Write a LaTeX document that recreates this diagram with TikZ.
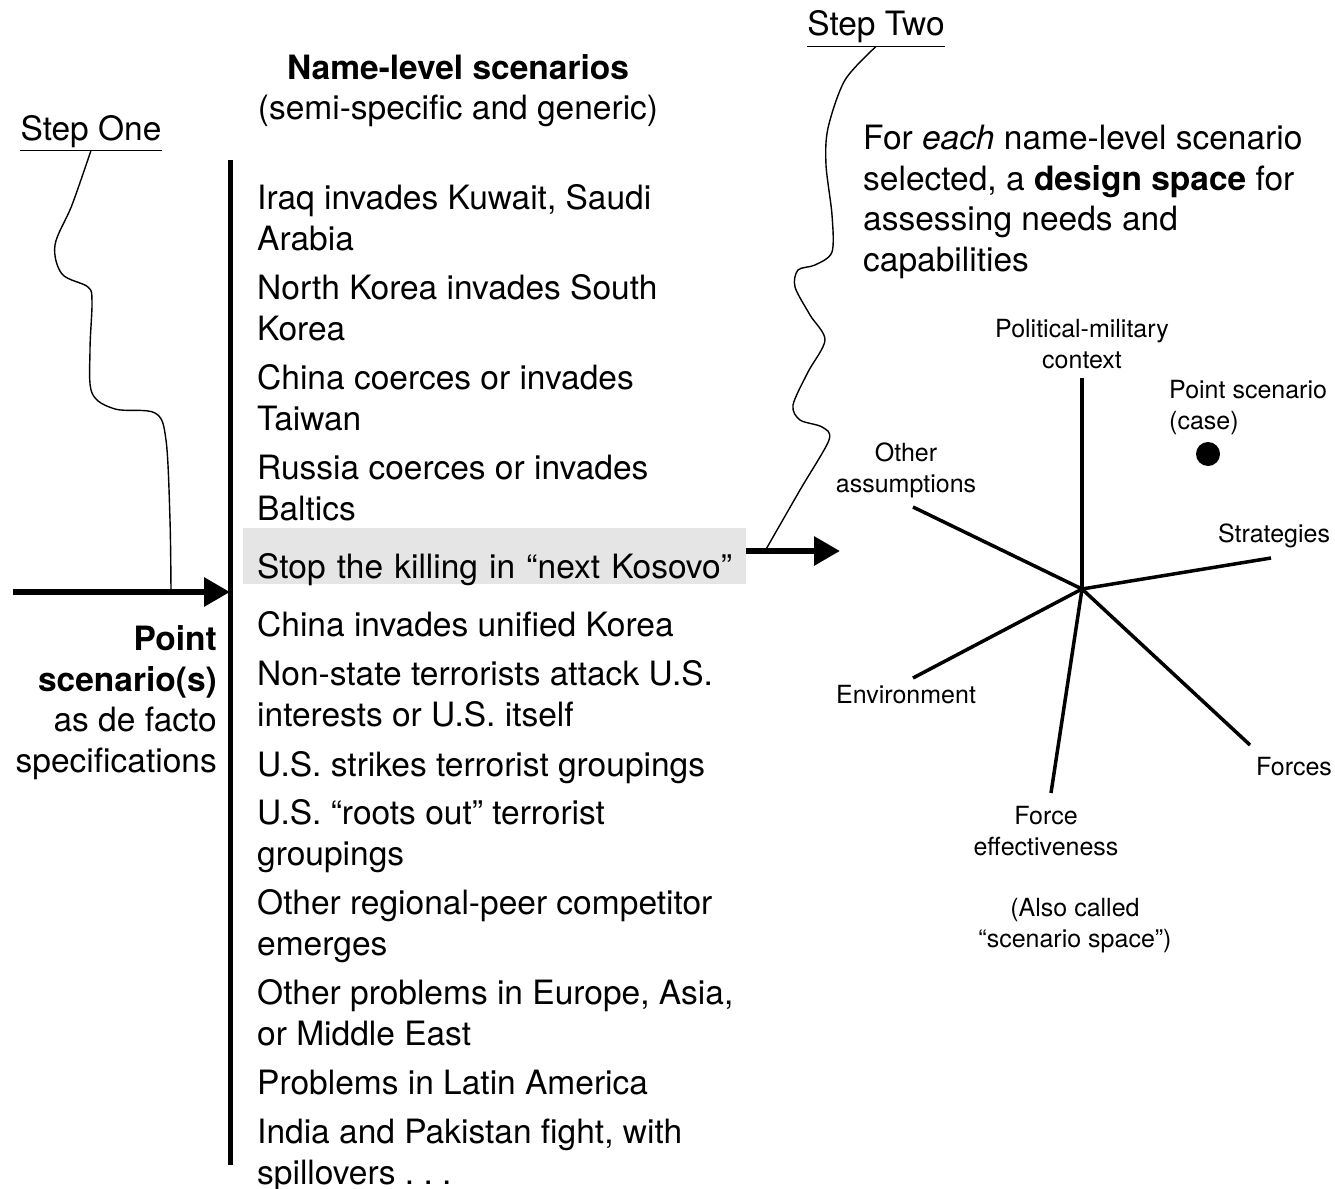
\documentclass[tikz,border=0pt]{standalone}
\usepackage{fontspec}
\setmainfont{TeX Gyre Heros}
\usetikzlibrary{arrows.meta}
\definecolor{boxgray}{gray}{0.9}
\frenchspacing

\begin{document}
\begin{tikzpicture}[x=1pt, y=-1pt,
    txt/.style = {font=\fontsize{33.5}{40.5}\selectfont, inner sep=0pt},
    scen/.style = {txt, anchor=base west, align=left},
    axlbl/.style = {font=\fontsize{25}{31}\selectfont, inner sep=0pt, align=center, anchor=base},
    bigarrow/.style = {line width=6pt, -{Triangle[length=26pt,width=28pt]}},
    axis/.style = {line width=3.5pt},
    wave/.style = {line width=1.4pt}]

    \useasboundingbox (0,0) rectangle (1335,1188);

    % step labels
    \node[txt, anchor=base, inner ysep=3pt] (stepone) at (91,140) {Step One};
    \draw[line width=1.3pt] (stepone.south west) -- (stepone.south east);
    \node[txt, anchor=base, inner ysep=3pt] (steptwo) at (876,36) {Step Two};
    \draw[line width=1.3pt] (steptwo.south west) -- (steptwo.south east);

    % list of name-level scenarios (y = baseline of last line)
    \coordinate (bartop) at (230,160);
    \coordinate (barbot) at (230,1165);
    \coordinate (barin) at (230,592);
    \coordinate (tail) at (13,592);
    \draw[line width=5pt] (bartop) -- (barbot);
    \node[txt, anchor=base, align=center] (head) at (458,120) {\textbf{Name-level scenarios}\\(semi-specific and generic)};
    \foreach \yb/\txt [count=\i] in {250/{Iraq invades Kuwait, Saudi\\Arabia},
        340/{North Korea invades South\\Korea}, 430/{China coerces or invades\\Taiwan},
        520/{Russia coerces or invades\\Baltics}, 636/{China invades unified Korea},
        726/{Non-state terrorists attack U.S.\\interests or U.S. itself},
        776/{U.S. strikes terrorist groupings}, 865/{U.S. “roots out” terrorist\\groupings},
        955/{Other regional-peer competitor\\emerges}, 1045/{Other problems in Europe, Asia,\\or Middle East},
        1094/{Problems in Latin America}, 1184/{India and Pakistan fight, with\\spillovers . . .}}
        \node[scen] (scen\i) at (257,\yb) {\txt};
    \node[scen, fill=boxgray, inner xsep=14pt, text width=475pt, text height=50pt, text depth=6pt] (kosovo) at (243,578) {Stop the killing in “next Kosovo”};

    % point scenario
    \node[txt, anchor=base east, align=right] (point) at (217,772) {\textbf{Point}\\\textbf{scenario(s)}\\as de facto\\specifications};
    \draw[bigarrow] (tail) -- (barin);
    \coordinate (onefoot) at (171,592);
    \draw[wave] plot[smooth, tension=0.55] coordinates {(stepone.south) (72,205) (55,245) (62,274) (88,287) (92,302) (90,350) (92,393) (115,409) (155,413) (166,440) (170,520) (onefoot)};

    % step two
    \coordinate (dsp) at (840,551);
    \draw[bigarrow] ([yshift=5pt]kosovo.east) -- (dsp);
    \coordinate (twofoot) at (765,551);
    \draw[wave] plot[smooth, tension=0.5] coordinates {(steptwo.south) (845,80) (828,128) (826,165) (832,215) (832,252) (815,265) (798,270) (795,287) (810,315) (825,340) (808,372) (793,405) (800,420) (822,427) (829,440) (800,490) (twofoot)};
    \node[txt, anchor=base west, align=left] (descr) at (863,271) {For \textit{each} name-level scenario\\selected, a \textbf{design space} for\\assessing needs and\\capabilities};

    % design space
    \coordinate (hub) at (1082,589);
    \coordinate (polmil) at (1082,378);
    \coordinate (othass) at (913,507);
    \coordinate (strat) at (1271,558);
    \coordinate (envir) at (913,678);
    \coordinate (forces) at (1250,745);
    \coordinate (foreff) at (1051,793);
    \foreach \p in {polmil,othass,strat,envir,forces,foreff}
        \draw[axis] (hub) -- (\p);
    \node[axlbl] (polmillbl) at (1082,368) {Political-military\\context};
    \node[axlbl, anchor=base west, align=left] (caselbl) at (1169,429) {Point scenario\\(case)};
    \node[circle, fill, minimum size=24pt, inner sep=0pt] (ptcase) at (1208,454) {};
    \node[axlbl] (othasslbl) at (906,492) {Other\\assumptions};
    \node[axlbl] (stratlbl) at (1274,542) {Strategies};
    \node[axlbl] (envirlbl) at (906,703) {Environment};
    \node[axlbl] (forceslbl) at (1294,775) {Forces};
    \node[axlbl] (forefflbl) at (1046,855) {Force\\effectiveness};
    \node[axlbl] (alsolbl) at (1075,947) {(Also called\\“scenario space”)};

\end{tikzpicture}
\end{document}
